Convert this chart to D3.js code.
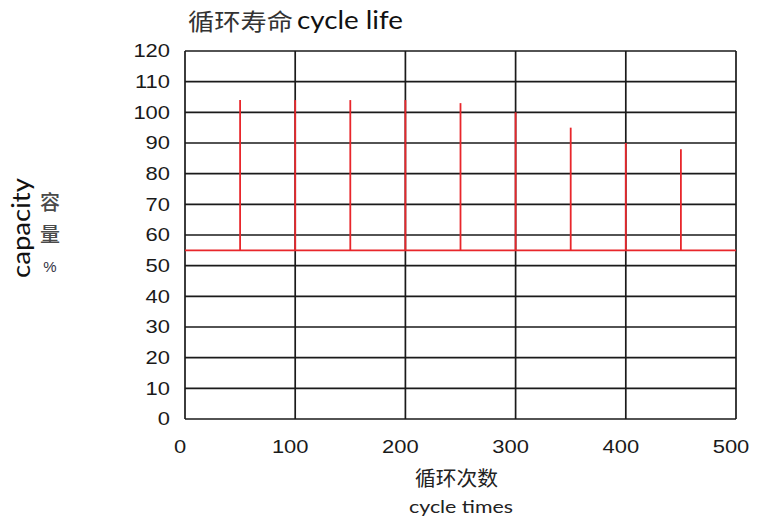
<!DOCTYPE html>
<html>
<head>
<meta charset="utf-8">
<script src="https://cdn.jsdelivr.net/npm/d3@7"></script>
<style>
  html, body { margin: 0; padding: 0; background: #fff; }
  svg { display: block; }
</style>
</head>
<body>
<svg id="chart" width="758" height="520"></svg>
<script>
// ---- data ----
const cycles = [50, 100, 150, 200, 250, 300, 350, 400, 450];
const capacity = [104, 104, 104, 104, 103, 100, 95, 90, 88];
const baseline = 55;
const xTicks = [0, 100, 200, 300, 400, 500];
const yTicks = [0, 10, 20, 30, 40, 50, 60, 70, 80, 90, 100, 110, 120];
const titleZh = "循环寿命";
const titleEn = "cycle life";
const xTitleZh = "循环次数";
const xTitleEn = "cycle times";
const yTitleEn = "capacity";
const yTitleZh = ["容", "量"];
const yUnit = "%";

// ---- layout ----
const plotLeft = 185, plotRight = 736, plotTop = 51, plotBottom = 419;
const svg = d3.select("#chart");
const x = d3.scaleLinear().domain([0, 500]).range([plotLeft, plotRight]);
const y = d3.scaleLinear().domain([0, 120]).range([plotBottom, plotTop]);

const red = "#e8262b";
const grid = "#1a1a1a";

// horizontal grid lines
svg.append("g").selectAll("line").data(yTicks).join("line")
  .attr("x1", x(0)).attr("x2", x(500))
  .attr("y1", d => y(d)).attr("y2", d => y(d))
  .attr("stroke", grid).attr("stroke-width", 1.7);

// vertical grid lines
svg.append("g").selectAll("line").data(xTicks).join("line")
  .attr("x1", d => x(d)).attr("x2", d => x(d))
  .attr("y1", y(0)).attr("y2", y(120))
  .attr("stroke", grid).attr("stroke-width", 1.7);

// red baseline
svg.append("line")
  .attr("x1", x(0)).attr("x2", x(500))
  .attr("y1", y(baseline)).attr("y2", y(baseline))
  .attr("stroke", red).attr("stroke-width", 1.8);

// red spikes
svg.append("g").selectAll("line").data(cycles.map((c, i) => ({c, v: capacity[i]}))).join("line")
  .attr("x1", d => x(d.c)).attr("x2", d => x(d.c))
  .attr("y1", y(baseline)).attr("y2", d => y(d.v))
  .attr("stroke", red).attr("stroke-width", 1.8);

// y tick labels
svg.append("g").selectAll("text").data(yTicks).join("text")
  .attr("transform", d => `translate(170,${y(d)}) scale(1.22,1)`)
  .attr("text-anchor", "end").attr("dy", "0.36em")
  .attr("font-family", "Liberation Sans, Arial, sans-serif")
  .attr("font-size", 18).attr("fill", "#1a1a1a")
  .text(d => d);

// x tick labels
svg.append("g").selectAll("text").data(xTicks).join("text")
  .attr("transform", d => `translate(${x(d) - 5},${447}) scale(1.22,1)`)
  .attr("text-anchor", "middle").attr("dy", "0.36em")
  .attr("font-family", "Liberation Sans, Arial, sans-serif")
  .attr("font-size", 18).attr("fill", "#1a1a1a")
  .text(d => d);

// title
svg.append("text")
  .attr("x", 188).attr("y", 30)
  .attr("font-family", "Noto Sans CJK SC").attr("font-size", 23).attr("fill", "#333")
  .attr("textLength", 105).attr("lengthAdjust", "spacingAndGlyphs")
  .text(titleZh);
svg.append("text")
  .attr("x", 297).attr("y", 29)
  .attr("font-family", "Lato, Open Sans, sans-serif").attr("font-size", 25).attr("fill", "#111")
  .attr("textLength", 106).attr("lengthAdjust", "spacingAndGlyphs")
  .text(titleEn);

// x titles
svg.append("text")
  .attr("x", 415).attr("y", 486)
  .attr("font-family", "Noto Sans CJK SC").attr("font-size", 20).attr("fill", "#222")
  .attr("textLength", 83).attr("lengthAdjust", "spacingAndGlyphs")
  .text(xTitleZh);
svg.append("text")
  .attr("x", 409).attr("y", 513)
  .attr("font-family", "Lato, Open Sans, sans-serif").attr("font-size", 18).attr("fill", "#222")
  .attr("textLength", 104).attr("lengthAdjust", "spacingAndGlyphs")
  .text(xTitleEn);

// y titles
svg.append("text")
  .attr("transform", "translate(30,278) rotate(-90)")
  .attr("font-family", "Lato, Open Sans, sans-serif").attr("font-size", 25).attr("fill", "#111")
  .attr("textLength", 100).attr("lengthAdjust", "spacingAndGlyphs")
  .text(yTitleEn);
svg.append("g").selectAll("text").data(yTitleZh).join("text")
  .attr("x", 50).attr("y", (d, i) => 203 + i * 32)
  .attr("dy", "0.36em").attr("text-anchor", "middle")
  .attr("font-family", "Noto Sans CJK SC").attr("font-size", 20).attr("font-weight", 500).attr("fill", "#4a4a4a")
  .text(d => d);
svg.append("text")
  .attr("x", 50).attr("y", 267).attr("dy", "0.36em").attr("text-anchor", "middle")
  .attr("font-family", "Liberation Sans, Arial, sans-serif").attr("font-size", 15).attr("fill", "#334")
  .text(yUnit);
</script>
</body>
</html>
